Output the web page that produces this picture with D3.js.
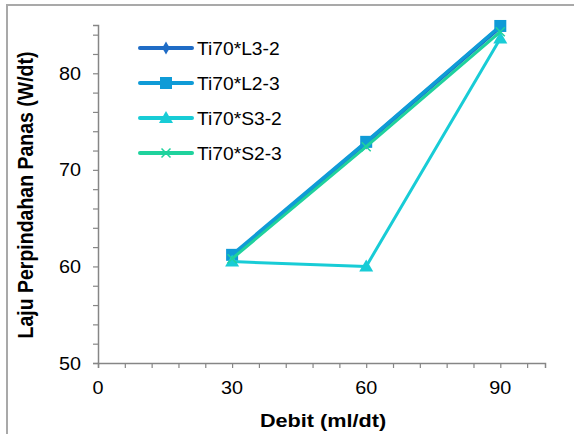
<!DOCTYPE html>
<html>
<head>
<meta charset="utf-8">
<script src="https://cdn.jsdelivr.net/npm/d3@7"></script>
<style>
  html, body { margin: 0; padding: 0; background: #ffffff; }
  svg { display: block; }
</style>
</head>
<body>
<div id="chart"></div>
<script>

// data
const debit = [30, 60, 90];
const seriesNames = ["Ti70*L3-2", "Ti70*L2-3", "Ti70*S3-2", "Ti70*S2-3"];
const valL32 = [61.0, 72.8, 84.8];
const valL23 = [61.2, 72.9, 84.9];
const valS32 = [60.5, 60.0, 83.6];
const valS23 = [60.8, 72.4, 84.3];
const xTicks = [0, 30, 60, 90];
const yTicks = [50, 60, 70, 80];

const seriesColors = ["#1f6cc6", "#0f9bd7", "#18ccd6", "#1fd29d"];
const seriesMarkers = ["diamond", "square", "triangle", "cross"];
const allValues = [valL32, valL23, valS32, valS23];

const W = 574, H = 434;
const fontFamily = "Arial, 'Liberation Sans', Helvetica, sans-serif";
const stretch = 1.1; // the reference text is a bit wide

const svg = d3.select("#chart").append("svg")
  .attr("width", W)
  .attr("height", H);

// outer frame
svg.append("rect")
  .attr("x", 7)
  .attr("y", 5)
  .attr("width", W + 10)
  .attr("height", H + 10)
  .attr("fill", "none")
  .attr("stroke", "#a9a9a9")
  .attr("stroke-width", 2);

const x = d3.scaleLinear().domain([0, 100]).range([98, 545]);
const y = d3.scaleLinear().domain([50, 85]).range([363, 25]);

//--------------------------------------
// AXES
//--------------------------------------

const axisColor = "#868686";

const xAxis = svg.append("g")
  .attr("transform", "translate(0," + y(50) + ")")
  .call(d3.axisBottom(x).tickValues(d3.range(0, 100, 6)).tickSize(5).tickFormat(""));

const yAxis = svg.append("g")
  .attr("transform", "translate(" + x(0) + ",0)")
  .call(d3.axisLeft(y).tickValues(d3.range(50, 85, 2)).tickSize(5).tickFormat(""));

[xAxis, yAxis].forEach(function (ax) {
  ax.select(".domain").attr("stroke", axisColor).attr("stroke-width", 1.5);
  ax.selectAll(".tick line").attr("stroke", axisColor).attr("stroke-width", 1.2);
});

svg.append("g").selectAll("text")
  .data(xTicks)
  .join("text")
  .attr("transform", d => "translate(" + x(d) + ",394) scale(" + stretch + ",1)")
  .attr("text-anchor", "middle")
  .attr("font-family", fontFamily)
  .attr("font-size", 18)
  .attr("fill", "#000")
  .text(d => d);

svg.append("g").selectAll("text")
  .data(yTicks)
  .join("text")
  .attr("transform", d => "translate(81," + (y(d) + 6.5) + ") scale(" + stretch + ",1)")
  .attr("text-anchor", "end")
  .attr("font-family", fontFamily)
  .attr("font-size", 18)
  .attr("fill", "#000")
  .text(d => d);

svg.append("text")
  .attr("transform", "translate(323,427) scale(1.14,1)")
  .attr("text-anchor", "middle")
  .attr("font-family", fontFamily)
  .attr("font-weight", "bold")
  .attr("font-size", 19)
  .attr("fill", "#000")
  .text("Debit (ml/dt)");

svg.append("text")
  .attr("transform", "translate(33,195) scale(1.1,1) rotate(-90)")
  .attr("text-anchor", "middle")
  .attr("font-family", fontFamily)
  .attr("font-weight", "bold")
  .attr("font-size", 19.5)
  .attr("fill", "#000")
  .text("Laju Perpindahan Panas (W/dt)");

//--------------------------------------
// MARKERS
//--------------------------------------

function drawMarker(g, type, cx, cy, color) {
  if (type === "diamond") {
    g.append("path")
      .attr("d", d3.symbol(d3.symbolDiamond, 50)())
      .attr("transform", "translate(" + cx + "," + cy + ")")
      .attr("fill", color);
  } else if (type === "square") {
    g.append("rect")
      .attr("x", cx - 6).attr("y", cy - 6)
      .attr("width", 12).attr("height", 12)
      .attr("fill", color);
  } else if (type === "triangle") {
    g.append("path")
      .attr("d", "M" + cx + "," + (cy - 7) + "L" + (cx + 7) + "," + (cy + 5) + "L" + (cx - 7) + "," + (cy + 5) + "Z")
      .attr("fill", color);
  } else {
    g.append("path")
      .attr("d", "M" + (cx - 4.5) + "," + (cy - 4.5) + "L" + (cx + 4.5) + "," + (cy + 4.5) +
                 "M" + (cx - 4.5) + "," + (cy + 4.5) + "L" + (cx + 4.5) + "," + (cy - 4.5))
      .attr("stroke", color)
      .attr("stroke-width", 1.5)
      .attr("fill", "none");
  }
}

//--------------------------------------
// SERIES
//--------------------------------------

const line = d3.line()
  .x(d => x(d[0]))
  .y(d => y(d[1]));

const seriesWidths = [4, 3.5, 3, 3];

allValues.forEach(function (vals, i) {
  const pts = debit.map((d, j) => [d, vals[j]]);
  const g = svg.append("g");
  g.append("path")
    .attr("d", line(pts))
    .attr("fill", "none")
    .attr("stroke", seriesColors[i])
    .attr("stroke-width", seriesWidths[i])
    .attr("stroke-linejoin", "round");
  pts.forEach(function (p) {
    drawMarker(g, seriesMarkers[i], x(p[0]), y(p[1]), seriesColors[i]);
  });
});

//--------------------------------------
// LEGEND
//--------------------------------------

const legendY = [48, 83, 118, 153];
const legend = svg.append("g");

seriesNames.forEach(function (name, i) {
  const ly = legendY[i];
  legend.append("line")
    .attr("x1", 140).attr("x2", 192)
    .attr("y1", ly).attr("y2", ly)
    .attr("stroke", seriesColors[i])
    .attr("stroke-width", 4)
    .attr("stroke-linecap", "round");
  drawMarker(legend, seriesMarkers[i], 166, ly, seriesColors[i]);
  legend.append("text")
    .attr("transform", "translate(197," + (ly + 7) + ") scale(" + stretch + ",1)")
    .attr("font-family", fontFamily)
    .attr("font-size", 17.5)
    .attr("fill", "#000")
    .text(name);
});

</script>
</body>
</html>
